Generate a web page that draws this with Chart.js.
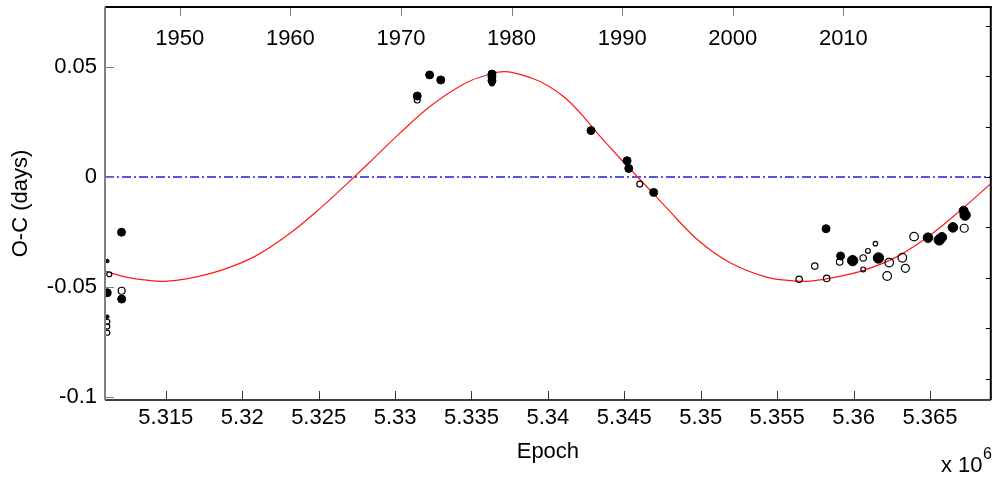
<!DOCTYPE html>
<html>
<head>
<meta charset="utf-8">
<script src="https://cdn.jsdelivr.net/npm/chart.js@4"></script>
<style>
  html, body { margin: 0; padding: 0; background: #fff; overflow: hidden; }
  #wrap { width: 997px; height: 480px; position: relative; }
</style>
</head>
<body>
<div id="wrap"><canvas id="ocChart"></canvas></div>
<script>
// Fitted curve (epoch in units of 10^6, O-C in days)
const curveEpoch = [5.31102, 5.31233, 5.31363, 5.31493, 5.31643, 5.31865, 5.32080, 5.32295,
  5.32517, 5.32686, 5.32862, 5.33025, 5.33241, 5.33462, 5.33612, 5.33723, 5.33892,
  5.34003, 5.34114, 5.34218, 5.34329, 5.34440, 5.34544, 5.34655, 5.34766, 5.34981, 5.35196,
  5.35418, 5.35568, 5.35698, 5.35848, 5.36070, 5.36285, 5.36500, 5.36722, 5.36898];
const curveOC = [-0.0428, -0.0454, -0.0468, -0.0474, -0.0462, -0.0423, -0.0362, -0.0265,
  -0.0138, -0.0030, 0.0086, 0.0195, 0.0327, 0.0427, 0.0466, 0.0479, 0.0450,
  0.0414, 0.0359, 0.0286, 0.0195, 0.0109, 0.0032, -0.0050, -0.0132, -0.0286, -0.0391,
  -0.0453, -0.0470, -0.0474, -0.0460, -0.0423, -0.0362, -0.0265, -0.0138, -0.0030];

// Filled markers
const priEpoch = [5.31210, 5.31117, 5.31117, 5.31211, 5.31117, 5.33145, 5.33226, 5.33299,
  5.33634, 5.33634, 5.33634, 5.34282, 5.34518, 5.34529, 5.34692, 5.35820, 5.35915, 5.35994,
  5.36163, 5.36487, 5.36561, 5.36578, 5.36650, 5.36720, 5.36730];
const priOC = [-0.0251, -0.0382, -0.0526, -0.0555, -0.0635, 0.0368, 0.0464, 0.0441,
  0.0468, 0.0456, 0.0438, 0.0211, 0.0074, 0.0039, -0.0070, -0.0235, -0.0359, -0.0380,
  -0.0368, -0.0276, -0.0286, -0.0274, -0.0229, -0.0153, -0.0173];
const priSize = [4, 1.8, 4, 4, 1.8, 4, 4, 4, 4, 4, 4, 4, 4, 4, 4,
  4, 4, 5.2, 5.2, 4.8, 5.2, 4.8, 4.8, 4.5, 5.2];

// Open markers
const secEpoch = [5.31130, 5.31211, 5.31117, 5.31117, 5.31117, 5.33145, 5.33634, 5.34601,
  5.35644, 5.35746, 5.35824, 5.35909, 5.36063, 5.36063, 5.36094, 5.36143, 5.36233, 5.36220,
  5.36319, 5.36339, 5.36396, 5.36724];
const secOC = [-0.0442, -0.0517, -0.0658, -0.0680, -0.0708, 0.0350, 0.0426, -0.0032,
  -0.0465, -0.0405, -0.0461, -0.0386, -0.0368, -0.0420, -0.0336, -0.0303, -0.0389, -0.0450,
  -0.0367, -0.0415, -0.0271, -0.0233];
const secSize = [2.5, 3.5, 2.5, 2.5, 2.5, 3, 2.5, 3, 3.2, 3.2, 3.2, 3.2, 3.2, 2.4, 2.4, 2.2, 4.3, 4.3, 4.3,
  4, 4.3, 4];

// Axes
const epochRange = [5.31102, 5.36898];
const ocRange = [-0.10136, 0.07727];
const yearRange = [1943.24, 2023.33];
const rightRange = [-4.425, 3.373];
const epochTicks = [5.315, 5.32, 5.325, 5.33, 5.335, 5.34, 5.345, 5.35, 5.355, 5.36, 5.365];
const epochLabels = ['5.315', '5.32', '5.325', '5.33', '5.335', '5.34', '5.345', '5.35', '5.355', '5.36', '5.365'];
const ocTicks = [-0.1, -0.05, 0, 0.05];
const ocLabels = ['-0.1', '-0.05', '0', '0.05'];
const yearTicks = [1950, 1960, 1970, 1980, 1990, 2000, 2010];
const rightTicks = [-4, -3, -2, -1, 0, 1, 2, 3];

const FONT = "'Liberation Sans', Arial, sans-serif";
Chart.defaults.font.family = FONT;
Chart.defaults.font.size = 22;
Chart.defaults.color = '#000';

const toPoints = (xs, ys) => xs.map((x, i) => ({ x: x, y: ys[i] }));

// box, inward tick marks, year labels and the x 10^6 note
const frame = {
  id: 'frame',
  afterDraw(chart) {
    const ctx = chart.ctx;
    const a = chart.chartArea;
    const sx = chart.scales.x, sy = chart.scales.y, st = chart.scales.x2, sr = chart.scales.y2;
    const seg = (x1, y1, x2, y2) => { ctx.beginPath(); ctx.moveTo(x1, y1); ctx.lineTo(x2, y2); ctx.stroke(); };
    ctx.save();
    ctx.lineWidth = 1;

    ctx.strokeStyle = '#808080';
    ocTicks.forEach(v => { const p = Math.round(sy.getPixelForValue(v)) + 0.5; seg(a.left, p, a.left + 9, p); });
    yearTicks.forEach(v => { const p = Math.round(st.getPixelForValue(v)) + 0.5; seg(p, a.top, p, a.top + 9); });
    ctx.strokeStyle = '#333';
    epochTicks.forEach(v => { const p = Math.round(sx.getPixelForValue(v)) + 0.5; seg(p, a.bottom, p, a.bottom - 9); });
    ctx.strokeStyle = '#000';
    rightTicks.forEach(v => { const p = Math.round(sr.getPixelForValue(v)) + 0.5; seg(a.right, p, a.right - 5, p); });

    // borders
    ctx.lineWidth = 2;
    ctx.strokeStyle = '#000';
    seg(a.left, a.top, a.right + 1, a.top);
    seg(a.right, a.top, a.right, a.bottom);
    ctx.lineWidth = 1.5;
    seg(a.left, a.bottom, a.right, a.bottom);
    ctx.lineWidth = 2;
    ctx.strokeStyle = '#808080';
    seg(a.left, a.top, a.left, a.bottom);

    // year labels inside the top of the box
    ctx.fillStyle = '#000';
    ctx.font = '22px ' + FONT;
    ctx.textAlign = 'center';
    ctx.textBaseline = 'alphabetic';
    yearTicks.forEach(v => ctx.fillText(String(v), st.getPixelForValue(v), 45));

    ctx.textAlign = 'left';
    ctx.fillText('x 10', 941, 472);
    ctx.font = '16px ' + FONT;
    ctx.fillText('6', 983, 459);
    ctx.restore();
  }
};

new Chart(document.getElementById('ocChart'), {
  type: 'scatter',
  data: {
    datasets: [
      {
        label: 'filled',
        data: toPoints(priEpoch, priOC),
        pointRadius: priSize,
        pointHoverRadius: priSize,
        pointBackgroundColor: '#000',
        pointBorderColor: '#000',
        pointBorderWidth: 1
      },
      {
        label: 'open',
        data: toPoints(secEpoch, secOC),
        pointRadius: secSize,
        pointHoverRadius: secSize,
        pointBackgroundColor: 'rgba(0,0,0,0)',
        pointBorderColor: '#000',
        pointBorderWidth: 1.2
      },
      {
        label: 'fit',
        data: toPoints(curveEpoch, curveOC),
        showLine: true,
        pointRadius: 0,
        borderColor: '#ff1a1a',
        borderWidth: 1.2,
        tension: 0.4
      },
      {
        label: 'zero',
        data: [{ x: epochRange[0], y: 0 }, { x: epochRange[1], y: 0 }],
        showLine: true,
        pointRadius: 0,
        borderColor: 'rgb(30,30,225)',
        borderWidth: 1.5,
        borderDash: [9, 3, 2, 3]
      }
    ]
  },
  options: {
    responsive: true,
    maintainAspectRatio: false,
    animation: false,
    events: [],
    layout: { padding: { top: 7, right: 3, left: 0, bottom: 0 } },
    plugins: { legend: { display: false }, tooltip: { enabled: false } },
    scales: {
      x: {
        type: 'linear',
        position: 'bottom',
        min: epochRange[0],
        max: epochRange[1],
        afterBuildTicks: s => { s.ticks = epochTicks.map(v => ({ value: v })); },
        afterFit: s => { s.height = 80; s.paddingLeft = 0; s.paddingRight = 0; },
        grid: { display: false, drawTicks: false },
        border: { display: false },
        ticks: {
          padding: 5,
          autoSkip: false,
          maxRotation: 0,
          callback: v => epochLabels[epochTicks.indexOf(v)]
        },
        title: { display: true, text: 'Epoch', padding: { top: 0, bottom: 15 } }
      },
      y: {
        type: 'linear',
        position: 'left',
        min: ocRange[0],
        max: ocRange[1],
        afterBuildTicks: s => { s.ticks = ocTicks.map(v => ({ value: v })); },
        afterFit: s => { s.width = 105; s.paddingTop = 0; s.paddingBottom = 0; },
        grid: { display: false, drawTicks: false },
        border: { display: false },
        ticks: {
          padding: 8,
          callback: v => ocLabels[ocTicks.indexOf(v)]
        },
        title: { display: true, text: 'O-C (days)', padding: { top: 8, bottom: 0 } }
      },
      x2: {
        type: 'linear',
        position: 'top',
        display: false,
        min: yearRange[0],
        max: yearRange[1]
      },
      y2: {
        type: 'linear',
        position: 'right',
        display: false,
        min: rightRange[0],
        max: rightRange[1]
      }
    }
  },
  plugins: [frame]
});
</script>
</body>
</html>
